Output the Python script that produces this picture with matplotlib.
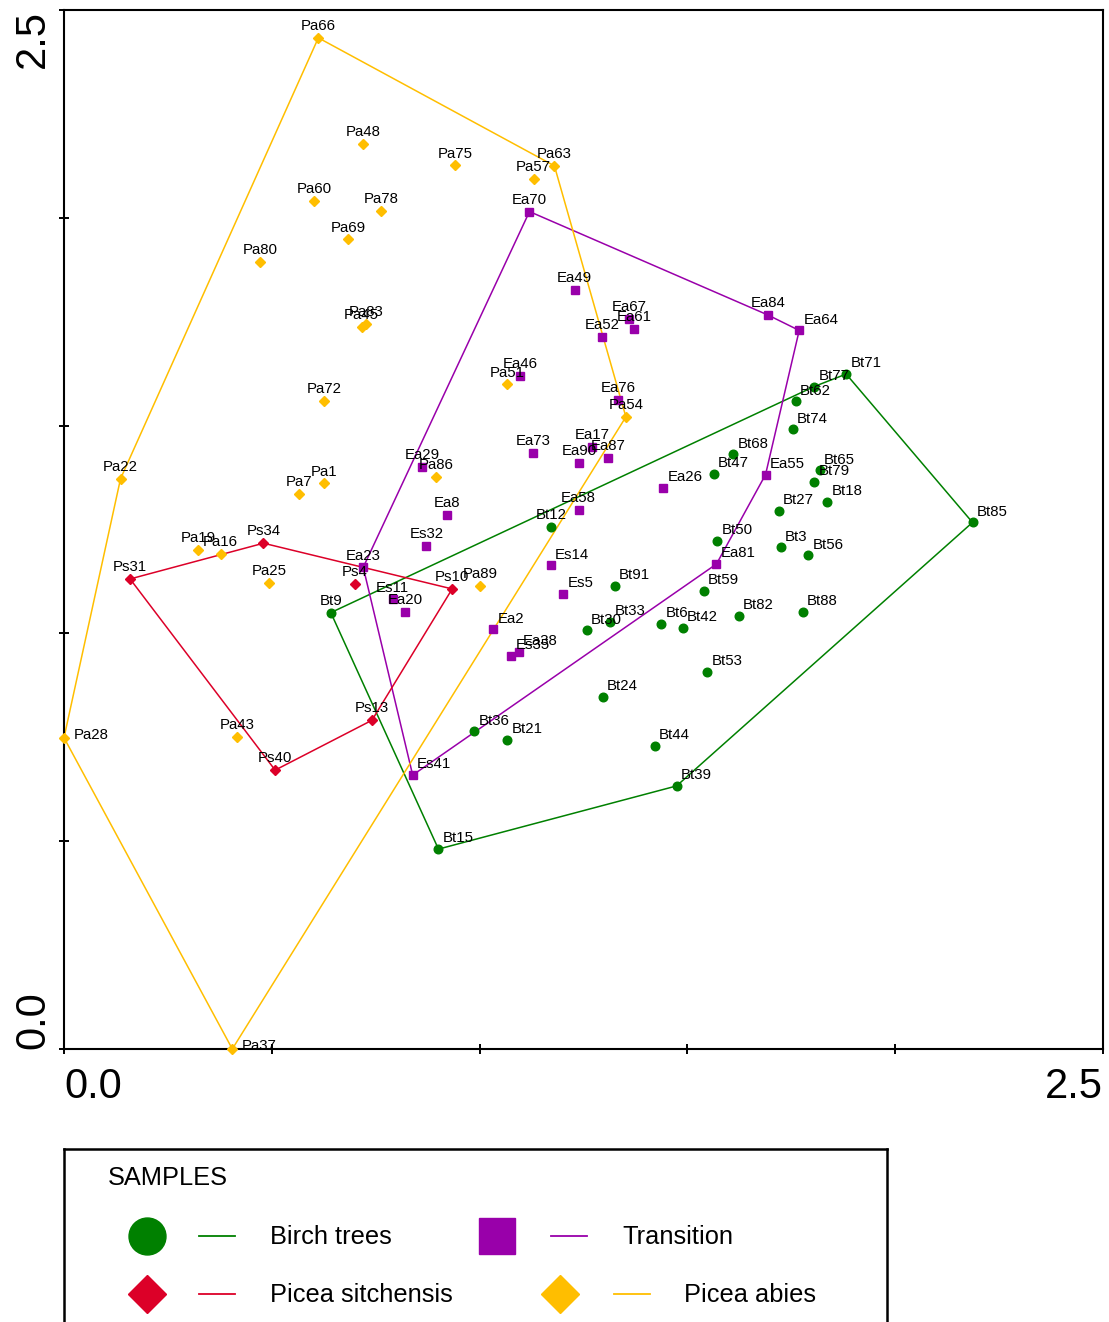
import math
import matplotlib
matplotlib.use("Agg")
import matplotlib.pyplot as plt

plt.rcParams['font.family'] = ['Liberation Sans', 'DejaVu Sans']

# Datos de las muestras (coordenadas de ordenación)
bt_nombres = ["Bt71", "Bt77", "Bt62", "Bt74", "Bt68", "Bt47", "Bt65", "Bt79", "Bt18", "Bt27",
              "Bt85", "Bt12", "Bt50", "Bt3", "Bt56", "Bt91", "Bt59", "Bt9", "Bt82", "Bt88",
              "Bt33", "Bt6", "Bt42", "Bt30", "Bt53", "Bt24", "Bt36", "Bt21", "Bt44", "Bt39", "Bt15"]
bt_x = [1.882, 1.805, 1.761, 1.753, 1.610, 1.563, 1.819, 1.805, 1.837, 1.720,
        2.186, 1.173, 1.572, 1.725, 1.791, 1.325, 1.540, 0.642, 1.624, 1.777,
        1.314, 1.437, 1.489, 1.258, 1.548, 1.296, 0.987, 1.067, 1.422, 1.474, 0.901]
bt_y = [1.624, 1.594, 1.558, 1.491, 1.431, 1.384, 1.392, 1.364, 1.317, 1.295,
        1.267, 1.257, 1.222, 1.207, 1.188, 1.115, 1.102, 1.050, 1.042, 1.052,
        1.028, 1.023, 1.014, 1.007, 0.908, 0.848, 0.764, 0.744, 0.730, 0.633, 0.481]

tr_nombres = ["Ea70", "Ea49", "Ea84", "Ea67", "Ea61", "Ea64", "Ea52", "Ea46", "Ea76", "Ea73",
              "Ea17", "Ea87", "Ea90", "Ea29", "Ea55", "Ea26", "Ea58", "Ea8", "Es32", "Ea81",
              "Es14", "Ea23", "Es5", "Es11", "Ea20", "Ea2", "Ea38", "Es35", "Es41"]
tr_x = [1.120, 1.229, 1.694, 1.359, 1.371, 1.769, 1.295, 1.097, 1.334, 1.128,
        1.270, 1.309, 1.240, 0.862, 1.688, 1.442, 1.238, 0.922, 0.872, 1.570,
        1.171, 0.720, 1.201, 0.791, 0.821, 1.033, 1.095, 1.076, 0.839]
tr_y = [2.015, 1.826, 1.766, 1.757, 1.732, 1.729, 1.713, 1.620, 1.562, 1.435,
        1.449, 1.423, 1.411, 1.401, 1.382, 1.351, 1.298, 1.285, 1.210, 1.167,
        1.164, 1.159, 1.096, 1.082, 1.051, 1.010, 0.955, 0.946, 0.659]

ps_nombres = ["Ps34", "Ps31", "Ps4", "Ps10", "Ps13", "Ps40"]
ps_x = [0.480, 0.159, 0.699, 0.934, 0.741, 0.508]
ps_y = [1.217, 1.131, 1.119, 1.107, 0.791, 0.671]

pa_nombres = ["Pa66", "Pa48", "Pa75", "Pa63", "Pa57", "Pa60", "Pa78", "Pa69", "Pa80", "Pa83",
              "Pa45", "Pa51", "Pa72", "Pa54", "Pa86", "Pa22", "Pa1", "Pa7", "Pa19", "Pa16",
              "Pa25", "Pa89", "Pa43", "Pa28", "Pa37"]
pa_x = [0.612, 0.720, 0.941, 1.180, 1.130, 0.602, 0.763, 0.683, 0.472, 0.727,
        0.716, 1.066, 0.626, 1.352, 0.896, 0.136, 0.626, 0.565, 0.323, 0.377,
        0.493, 1.001, 0.416, 0.000, 0.405]
pa_y = [2.433, 2.178, 2.126, 2.125, 2.094, 2.041, 2.016, 1.948, 1.894, 1.744,
        1.737, 1.599, 1.560, 1.521, 1.376, 1.372, 1.361, 1.335, 1.201, 1.191,
        1.122, 1.114, 0.751, 0.749, 0.000]

grupos = ["Birch trees", "Transition", "Picea sitchensis", "Picea abies"]


def envolvente_convexa(xs, ys):
    # Cadena monótona de Andrew
    pts = sorted(zip(xs, ys))

    def cruz(o, a, b):
        return (a[0] - o[0]) * (b[1] - o[1]) - (a[1] - o[1]) * (b[0] - o[0])

    inferior = []
    for p in pts:
        while len(inferior) >= 2 and cruz(inferior[-2], inferior[-1], p) <= 0:
            inferior.pop()
        inferior.append(p)
    superior = []
    for p in reversed(pts):
        while len(superior) >= 2 and cruz(superior[-2], superior[-1], p) <= 0:
            superior.pop()
        superior.append(p)
    casco = inferior[:-1] + superior[:-1]
    casco.append(casco[0])
    return [p[0] for p in casco], [p[1] for p in casco]


W, H = 1109, 1322
fig = plt.figure(figsize=(W / 100, H / 100), dpi=100)
ax = fig.add_axes([64 / W, 1 - 1049 / H, 1039 / W, 1039 / H])

estilos = [
    (bt_nombres, bt_x, bt_y, "#008000", "o", 6.2),
    (tr_nombres, tr_x, tr_y, "#9900aa", "s", 6.0),
    (ps_nombres, ps_x, ps_y, "#dc0028", "D", 5.2),
    (pa_nombres, pa_x, pa_y, "#ffbe00", "D", 5.2),
]

for nombres, xs, ys, color, marcador, tam in estilos:
    hx, hy = envolvente_convexa(xs, ys)
    ax.plot(hx, hy, color=color, lw=1.1, zorder=2, clip_on=False)
    ax.plot(xs, ys, ls="none", marker=marcador, ms=tam, color=color,
            mec=color, zorder=3, clip_on=False)
    for n, x, y in zip(nombres, xs, ys):
        ang = math.degrees(math.atan2(y - 1.25, x - 1.25)) % 360
        if x < 0.01 or y < 0.01:
            ax.annotate(n, (x, y), xytext=(7, 2), textcoords="offset points",
                        ha="left", va="center", fontsize=10.8, zorder=4)
        elif ang < 45 or ang > 225:
            ax.annotate(n, (x, y), xytext=(3, 4.8), textcoords="offset points",
                        ha="left", va="baseline", fontsize=10.8, zorder=4)
        else:
            ax.annotate(n, (x, y), xytext=(0, 5.6), textcoords="offset points",
                        ha="center", va="baseline", fontsize=10.8, zorder=4)

ax.set_xlim(0, 2.5)
ax.set_ylim(0, 2.5)
ticks = [0, 0.5, 1.0, 1.5, 2.0, 2.5]
etiquetas = ["0.0", "", "", "", "", "2.5"]
ax.set_xticks(ticks)
ax.set_xticklabels(etiquetas)
ax.set_yticks(ticks)
ax.set_yticklabels(etiquetas, rotation=90)
ax.tick_params(direction="inout", length=7.5, width=1.4, labelsize=30, pad=4,
               top=False, right=False)
ax.tick_params(axis="x", pad=9)
xl = ax.get_xticklabels()
xl[0].set_ha("left")
xl[-1].set_ha("right")
yl = ax.get_yticklabels()
yl[0].set_va("bottom")
yl[-1].set_va("top")
for s in ax.spines.values():
    s.set_linewidth(1.5)

# Leyenda dibujada a mano (se sale del borde inferior)
lg = fig.add_axes([64 / W, 1 - 1340 / H, (887 - 64) / W, (1340 - 1149) / H])
lg.set_xlim(64, 887)
lg.set_ylim(1340, 1149)
lg.set_xticks([])
lg.set_yticks([])
for s in lg.spines.values():
    s.set_linewidth(1.8)
lg.text(108, 1178, "SAMPLES", fontsize=18.3, ha="left", va="center")

filas = [(147, 1236, 199, 270), (497, 1236, 551, 622), (147, 1294, 199, 270), (560, 1294, 614, 684)]
tam_ley = [26.6, 26.6, 18.9, 18.9]
for (mx, my, lx, tx), (_, _, _, color, marcador, _), nombre, t in zip(filas, estilos, grupos, tam_ley):
    lg.plot([mx], [my], marker=marcador, ms=t, color=color, mec=color, clip_on=False)
    lg.plot([lx, lx + 36], [my, my], color=color, lw=1.3)
    lg.text(tx, my + 1, nombre, fontsize=18.3, ha="left", va="center")

fig.savefig("out.png", dpi=100)
